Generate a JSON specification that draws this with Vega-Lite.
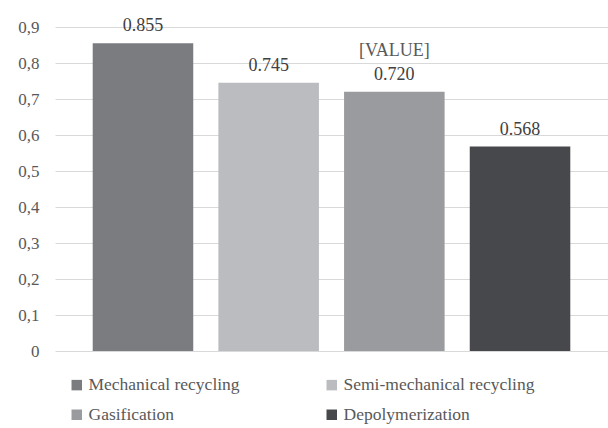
{
  "$schema": "https://vega.github.io/schema/vega-lite/v6.json",
  "autosize": {"type": "none"},
  "padding": {"left": 55, "top": 27, "right": 0, "bottom": 77},
  "width": 553,
  "height": 324,
  "background": "white",
  "data": {
    "values": [
      {"method": "Mechanical recycling", "value": 0.855, "label": "0.855", "extra": ""},
      {"method": "Semi-mechanical recycling", "value": 0.745, "label": "0.745", "extra": ""},
      {"method": "Gasification", "value": 0.72, "label": "0.720", "extra": "[VALUE]"},
      {"method": "Depolymerization", "value": 0.568, "label": "0.568", "extra": ""}
    ]
  },
  "encoding": {
    "x": {
      "field": "method",
      "type": "nominal",
      "sort": null,
      "scale": {"paddingInner": 0.2, "paddingOuter": 0.3},
      "axis": null
    },
    "y": {
      "field": "value",
      "type": "quantitative",
      "scale": {"domain": [0, 0.9], "nice": false},
      "axis": {
        "title": null,
        "values": [0, 0.1, 0.2, 0.3, 0.4, 0.5, 0.6, 0.7, 0.8, 0.9],
        "labelExpr": "replace(format(datum.value, '.1~f'), '.', ',')",
        "domain": false,
        "ticks": false,
        "labelPadding": 16,
        "labelFont": "Liberation Serif",
        "labelFontSize": 17,
        "labelColor": "#595959",
        "gridColor": "#d9d9d9",
        "gridWidth": 1.2
      }
    }
  },
  "layer": [
    {
      "mark": {"type": "bar"},
      "encoding": {
        "color": {
          "field": "method",
          "type": "nominal",
          "sort": null,
          "scale": {
            "domain": ["Mechanical recycling", "Semi-mechanical recycling", "Gasification", "Depolymerization"],
            "range": ["#7b7c80", "#bbbcc0", "#9a9b9f", "#47484b"]
          },
          "legend": {
            "title": null,
            "orient": "none",
            "direction": "horizontal",
            "legendX": 13,
            "legendY": 349,
            "columns": 2,
            "columnPadding": 83,
            "rowPadding": 11,
            "symbolType": "square",
            "symbolSize": 110,
            "symbolStrokeWidth": 0,
            "symbolOffset": 0,
            "labelOffset": 3,
            "labelFont": "Liberation Serif",
            "labelFontSize": 17.5,
            "labelColor": "#595959",
            "labelLimit": 300
          }
        }
      }
    },
    {
      "mark": {
        "type": "text",
        "baseline": "alphabetic",
        "dy": -12,
        "font": "Liberation Serif",
        "fontSize": 18,
        "color": "#404040"
      },
      "encoding": {"text": {"field": "label"}}
    },
    {
      "mark": {
        "type": "text",
        "baseline": "alphabetic",
        "dy": -36,
        "font": "Liberation Serif",
        "fontSize": 18,
        "color": "#595959"
      },
      "encoding": {"text": {"field": "extra"}}
    }
  ],
  "config": {"view": {"stroke": null}}
}
